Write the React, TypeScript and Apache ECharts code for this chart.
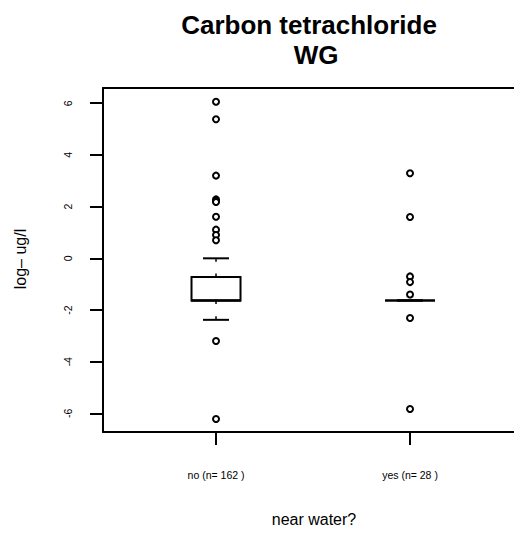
import React, { useEffect, useRef } from "react";
import * as echarts from "echarts";

const categories = ["no", "yes"];
const counts = [162, 28];
const lowWhisker = [-2.38, -1.63];
const q1 = [-1.63, -1.63];
const median = [-1.63, -1.63];
const q3 = [-0.72, -1.63];
const highWhisker = [0.0, -1.63];
const outliersNo = [6.06, 5.38, 3.2, 2.28, 2.23, 2.18, 1.61, 1.11, 0.9, 0.7, -3.2, -6.22];
const outliersYes = [3.29, 1.6, -0.7, -0.92, -1.4, -2.31, -5.83];
const yTicks = [-6, -4, -2, 0, 2, 4, 6];
const yTickLabels = ["-6", "-4", "-2", "0", "2", "4", "6"];
const titleLines = ["Carbon tetrachloride", "WG"];
const xName = "near water?";
const yName = "log\u2013 ug/l";

const FONT = "'Liberation Sans', Arial, Helvetica, sans-serif";

export default function App() {
  const ref = useRef<HTMLDivElement>(null);
  useEffect(() => {
    document.body.style.margin = "0";
    const chart = echarts.init(ref.current!, null, { renderer: "svg" });
    const boxData = categories.map((c, i) => [i + 1, lowWhisker[i], q1[i], median[i], q3[i], highWhisker[i]]);
    const outData = [
      ...outliersNo.map((v) => [1, v]),
      ...outliersYes.map((v) => [2, v]),
    ];
    const axisLineStyle = { color: "#000", width: 2 };
    const option: any = {
      animation: false,
      backgroundColor: "#fff",
      grid: {
        left: 103,
        top: 88,
        right: 0,
        bottom: 101,
        show: false,
      },
      xAxis: [
        {
          type: "value",
          min: 0.4175,
          max: 2.536,
          position: "bottom",
          axisLine: { show: true, onZero: false, lineStyle: axisLineStyle },
          splitLine: { show: false },
          axisTick: {
            show: true,
            customValues: [1, 2],
            length: 13,
            lineStyle: { color: "#000", width: 2 },
          },
          axisLabel: {
            show: true,
            customValues: [1, 2],
            margin: 37,
            fontSize: 10.5,
            color: "#000",
            fontFamily: FONT,
            formatter: (v: number) => {
              const i = Math.round(v) - 1;
              return `${categories[i]} (n= ${counts[i]} )`;
            },
          },
        },
        {
          type: "value",
          min: 0.4175,
          max: 2.536,
          position: "top",
          axisLine: { show: true, onZero: false, lineStyle: axisLineStyle },
          splitLine: { show: false },
          axisTick: { show: false },
          axisLabel: { show: false },
        },
      ],
      yAxis: {
        type: "value",
        min: -6.72,
        max: 6.59,
        axisLine: { show: true, onZero: false, lineStyle: axisLineStyle },
        splitLine: { show: false },
        axisTick: {
          show: true,
          customValues: yTicks,
          length: 13,
          lineStyle: { color: "#000", width: 2 },
        },
        axisLabel: {
          show: true,
          customValues: yTicks,
          rotate: 90,
          margin: 30,
          fontSize: 10.5,
          color: "#000",
          fontFamily: FONT,
          formatter: (v: number) => yTickLabels[yTicks.indexOf(Math.round(v))] ?? String(v),
        },
      },
      graphic: [
        {
          type: "text",
          x: 309,
          y: 25,
          style: {
            text: titleLines[0],
            fontSize: 26,
            fontWeight: "bold",
            fontFamily: FONT,
            fill: "#000",
            textAlign: "center",
            textVerticalAlign: "middle",
          },
        },
        {
          type: "text",
          x: 316,
          y: 55,
          style: {
            text: titleLines[1],
            fontSize: 26,
            fontWeight: "bold",
            fontFamily: FONT,
            fill: "#000",
            textAlign: "center",
            textVerticalAlign: "middle",
          },
        },
        {
          type: "text",
          x: 314,
          y: 519,
          style: {
            text: xName,
            fontSize: 16,
            fontFamily: FONT,
            fill: "#000",
            textAlign: "center",
            textVerticalAlign: "middle",
          },
        },
        {
          type: "text",
          x: 20,
          y: 259,
          rotation: Math.PI / 2,
          style: {
            text: yName,
            fontSize: 16,
            fontFamily: FONT,
            fill: "#000",
            textAlign: "center",
            textVerticalAlign: "middle",
          },
        },
      ],
      series: [
        {
          type: "custom",
          xAxisIndex: 0,
          data: boxData,
          encode: { x: 0, y: [1, 2, 3, 4, 5] },
          renderItem: (params: any, api: any) => {
            const i = params.dataIndex;
            const x = api.value(0);
            const yLo = api.coord([x, lowWhisker[i]])[1];
            const yQ1 = api.coord([x, q1[i]])[1];
            const yMed = api.coord([x, median[i]])[1];
            const yQ3 = api.coord([x, q3[i]])[1];
            const yHi = api.coord([x, highWhisker[i]])[1];
            const cx = api.coord([x, median[i]])[0];
            const boxHalf = 24.5;
            const capHalf = 13;
            const stub = 3.5;
            const children: any[] = [];
            const seg = (x1: number, y1: number, x2: number, y2: number, w: number) => ({
              type: "line",
              shape: { x1, y1, x2, y2 },
              style: { stroke: "#000", lineWidth: w, fill: null },
            });
            if (yHi < yQ3 - 0.5) {
              children.push(seg(cx, yHi, cx, yHi + stub, 1.5));
              children.push(seg(cx, yQ3 - stub, cx, yQ3, 1.5));
            }
            if (yLo > yQ1 + 0.5) {
              children.push(seg(cx, yQ1, cx, yQ1 + stub, 1.5));
              children.push(seg(cx, yLo - stub, cx, yLo, 1.5));
            }
            children.push(seg(cx - capHalf, yHi, cx + capHalf, yHi, 2));
            children.push(seg(cx - capHalf, yLo, cx + capHalf, yLo, 2));
            if (yQ1 - yQ3 > 0.5) {
              children.push({
                type: "rect",
                shape: { x: cx - boxHalf, y: yQ3, width: boxHalf * 2, height: yQ1 - yQ3 },
                style: { stroke: "#000", lineWidth: 2, fill: "#fff" },
              });
            }
            children.push(seg(cx - boxHalf - 0.5, yMed, cx + boxHalf + 0.5, yMed, 2.5));
            return { type: "group", children };
          },
          z: 2,
        },
        {
          type: "scatter",
          xAxisIndex: 0,
          data: outData,
          symbol: "circle",
          symbolSize: 6,
          itemStyle: { color: "#fff", borderColor: "#000", borderWidth: 2, opacity: 1 },
          z: 3,
        },
      ],
    };
    chart.setOption(option);
    return () => chart.dispose();
  }, []);
  return <div ref={ref} style={{ width: 514, height: 533 }} />;
}
